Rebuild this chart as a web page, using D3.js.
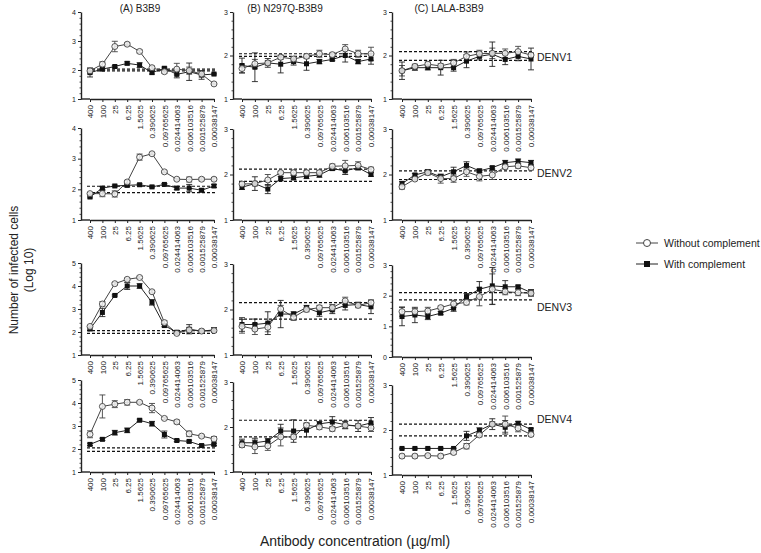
<!DOCTYPE html>
<html><head><meta charset="utf-8">
<script src="https://cdn.jsdelivr.net/npm/d3@7"></script>
<style>body{margin:0;background:#fff}svg{display:block;font-family:Arial,"Liberation Sans",sans-serif}</style>
</head><body><svg id="chart" width="761" height="553"></svg>
<script>
// ---------- categories / labels ----------
const concentrations = ["400","100","25","6.25","1.5625","0.390625","0.09765625","0.024414063","0.006103516","0.001525879","0.00038147"];
const panelTitles = ["(A) B3B9","(B) N297Q-B3B9","(C) LALA-B3B9"];
const serotypes = ["DENV1","DENV2","DENV3","DENV4"];
const seriesNames = ["Without complement","With complement"];
const yDomains = [[[1,4],[1,3],[1,3]],[[1,4],[1,3],[1,3]],[[1,5],[1,3],[0,3]],[[1,5],[1,3],[1,3]]];

// ---------- DENV1 ----------
const A1_without = [1.97,2.20,2.81,2.89,2.64,2.08,1.94,2.03,1.98,1.86,1.52];
const A1_with    = [1.91,2.03,2.12,2.23,2.17,1.91,2.06,1.85,1.94,1.83,1.86];
const A1_withoutErr = [0.10,0.08,0.18,0.05,0.05,0.05,0.05,0.20,0.12,0.10,0.03];
const A1_withErr    = [0.15,0.03,0.03,0.05,0.08,0.05,0.04,0.12,0.30,0.15,0.03];
const A1_cutoff = [2.03,1.97];

const B1_without = [1.70,1.81,1.83,1.96,1.92,1.98,2.04,2.02,2.15,2.04,2.04];
const B1_with    = [1.77,1.73,1.83,1.80,1.86,1.81,1.86,1.91,2.00,1.86,1.92];
const B1_withoutErr = [0.10,0.10,0.05,0.05,0.05,0.05,0.08,0.04,0.10,0.08,0.15];
const B1_withErr    = [0.17,0.33,0.10,0.20,0.08,0.15,0.05,0.03,0.15,0.05,0.12];
const B1_cutoff = [2.04,1.98];

const C1_without = [1.65,1.75,1.80,1.76,1.83,1.98,2.04,2.05,2.05,2.09,2.01];
const C1_with    = [1.65,1.72,1.72,1.72,1.72,1.87,1.98,2.03,1.91,1.98,1.92];
const C1_withoutErr = [0.12,0.05,0.05,0.05,0.08,0.10,0.08,0.12,0.10,0.12,0.05];
const C1_withErr    = [0.20,0.06,0.05,0.17,0.08,0.15,0.08,0.28,0.12,0.10,0.25];
const C1_cutoff = [2.09,1.89];

// ---------- DENV2 ----------
const A2_without = [1.86,1.86,1.85,2.24,3.05,3.16,2.57,2.33,2.32,2.33,2.33];
const A2_with    = [1.75,2.04,2.11,2.13,2.15,2.08,2.16,2.04,2.04,1.97,2.11];
const A2_withoutErr = [0.03,0.10,0.10,0.05,0.10,0.03,0.03,0.03,0.08,0.05,0.05];
const A2_withErr    = [0.03,0.05,0.03,0.05,0.03,0.03,0.03,0.05,0.12,0.05,0.05];
const A2_cutoff = [2.10,1.89];

const B2_without = [1.79,1.80,1.88,2.04,2.04,2.04,2.04,2.18,2.19,2.20,2.11];
const B2_with    = [1.72,1.80,1.68,1.91,1.93,1.96,1.99,2.13,2.08,2.15,2.00];
const B2_withoutErr = [0.03,0.05,0.12,0.03,0.05,0.05,0.05,0.05,0.12,0.08,0.05];
const B2_withErr    = [0.05,0.15,0.10,0.05,0.05,0.05,0.05,0.04,0.08,0.05,0.04];
const B2_cutoff = [2.12,1.85];

const C2_without = [1.73,1.90,2.04,1.91,1.91,2.06,1.96,1.99,2.17,2.19,2.15];
const C2_with    = [1.80,1.99,2.06,1.95,2.06,2.20,2.08,2.15,2.26,2.29,2.26];
const C2_withoutErr = [0.05,0.03,0.05,0.10,0.08,0.10,0.10,0.10,0.05,0.05,0.05];
const C2_withErr    = [0.05,0.03,0.05,0.05,0.10,0.08,0.04,0.03,0.05,0.05,0.05];
const C2_cutoff = [2.08,1.89];

// ---------- DENV3 ----------
const A3_without = [2.24,3.22,4.10,4.29,4.37,3.75,2.41,1.94,2.09,2.04,2.06];
const A3_with    = [2.13,2.85,3.59,4.00,4.00,3.29,2.28,1.99,2.12,2.04,2.09];
const A3_withoutErr = [0.03,0.10,0.05,0.05,0.05,0.05,0.08,0.05,0.10,0.05,0.05];
const A3_withErr    = [0.05,0.18,0.03,0.15,0.10,0.12,0.05,0.05,0.20,0.05,0.10];
const A3_cutoff = [2.06,1.94];

const B3_without = [1.63,1.57,1.61,2.01,1.83,2.00,2.04,2.04,2.19,2.09,2.15];
const B3_with    = [1.67,1.67,1.70,1.90,1.90,2.04,1.93,1.99,2.09,2.11,2.06];
const B3_withoutErr = [0.15,0.12,0.10,0.08,0.07,0.05,0.05,0.07,0.08,0.05,0.05];
const B3_withErr    = [0.15,0.12,0.25,0.30,0.05,0.05,0.08,0.08,0.10,0.05,0.15];
const B3_cutoff = [2.15,1.79];

const C3_without = [1.48,1.48,1.50,1.61,1.73,1.78,1.97,2.21,2.13,2.10,2.08];
const C3_with    = [1.32,1.37,1.32,1.43,1.59,1.97,2.21,2.32,2.29,2.29,2.10];
const C3_withoutErr = [0.15,0.10,0.12,0.05,0.12,0.08,0.30,0.50,0.10,0.10,0.10];
const C3_withErr    = [0.30,0.25,0.10,0.05,0.10,0.10,0.25,0.60,0.20,0.05,0.10];
const C3_cutoff = [2.10,1.86];

// ---------- DENV4 ----------
const A4_without = [2.64,3.85,3.95,4.03,4.03,3.78,3.33,3.18,2.66,2.56,2.44];
const A4_with    = [2.20,2.42,2.71,2.81,3.25,3.10,2.63,2.37,2.33,2.15,2.20];
const A4_withoutErr = [0.15,0.50,0.15,0.12,0.05,0.20,0.05,0.08,0.12,0.05,0.10];
const A4_withErr    = [0.05,0.05,0.10,0.10,0.05,0.10,0.15,0.05,0.05,0.05,0.05];
const A4_cutoff = [2.05,1.90];

const B4_without = [1.60,1.56,1.58,1.78,1.78,2.04,2.00,1.96,2.04,2.02,1.98];
const B4_with    = [1.65,1.65,1.69,1.91,1.91,1.93,2.07,2.11,2.05,2.02,2.09];
const B4_withoutErr = [0.05,0.15,0.10,0.20,0.05,0.05,0.05,0.05,0.08,0.05,0.08];
const B4_withErr    = [0.08,0.10,0.05,0.15,0.25,0.15,0.05,0.12,0.08,0.12,0.12];
const B4_cutoff = [2.15,1.78];

const C4_without = [1.42,1.42,1.43,1.42,1.50,1.64,1.89,2.13,2.13,2.04,1.90];
const C4_with    = [1.59,1.59,1.59,1.59,1.59,1.87,1.99,2.13,2.06,2.15,2.01];
const C4_withoutErr = [0.04,0.04,0.03,0.04,0.04,0.06,0.04,0.05,0.18,0.08,0.04];
const C4_withErr    = [0.01,0.01,0.01,0.01,0.01,0.10,0.06,0.12,0.15,0.04,0.03];
const C4_cutoff = [2.13,1.87];

const panelData = [
  [[A1_without,A1_with,A1_withoutErr,A1_withErr,A1_cutoff],[B1_without,B1_with,B1_withoutErr,B1_withErr,B1_cutoff],[C1_without,C1_with,C1_withoutErr,C1_withErr,C1_cutoff]],
  [[A2_without,A2_with,A2_withoutErr,A2_withErr,A2_cutoff],[B2_without,B2_with,B2_withoutErr,B2_withErr,B2_cutoff],[C2_without,C2_with,C2_withoutErr,C2_withErr,C2_cutoff]],
  [[A3_without,A3_with,A3_withoutErr,A3_withErr,A3_cutoff],[B3_without,B3_with,B3_withoutErr,B3_withErr,B3_cutoff],[C3_without,C3_with,C3_withoutErr,C3_withErr,C3_cutoff]],
  [[A4_without,A4_with,A4_withoutErr,A4_withErr,A4_cutoff],[B4_without,B4_with,B4_withoutErr,B4_withErr,B4_cutoff],[C4_without,C4_with,C4_withoutErr,C4_withErr,C4_cutoff]]
];

// ---------- layout ----------
const colX = [[81,90,214],[233,242,371],[392,402,531]];   // y-axis x, first tick, last tick
const rowY = [
  [[12,99],[12,99],[12,99]],
  [[128,220],[129,220],[129,220]],
  [[263,355],[264,355],[265,357]],
  [[380,472],[382,472],[385,475]]
];

const svg = d3.select("#chart");
const ink = "#222";
const lineGray = "#444";

panelData.forEach((row, r) => {
  row.forEach((pd, c) => {
    const [without, withC, withoutErr, withErr, cutoff] = pd;
    const [ax, x0, x1] = colX[c];
    const [top, bottom] = rowY[r][c];
    const dom = yDomains[r][c];
    const y = d3.scaleLinear().domain(dom).range([bottom, top]);
    const x = d3.scalePoint().domain(concentrations).range([x0, x1]);
    const g = svg.append("g");

    // y axis minor ticks
    const minor = d3.range(dom[0], dom[1] + 0.001, 0.2).filter(v => Math.abs(v - Math.round(v)) > 0.01);
    g.append("g").attr("transform", `translate(${ax},0)`)
      .call(d3.axisLeft(y).tickValues(minor).tickSize(1.5).tickSizeOuter(0).tickFormat(""))
      .call(s => s.select(".domain").remove())
      .selectAll("line").attr("stroke", ink).attr("stroke-width", 0.8);
    // y axis major
    const ya = g.append("g").attr("transform", `translate(${ax},0)`)
      .call(d3.axisLeft(y).tickValues(d3.range(dom[0], dom[1] + 1)).tickFormat(d3.format("d")).tickSize(3).tickSizeOuter(0).tickPadding(2));
    ya.select(".domain").attr("stroke", ink).attr("stroke-width", 1.4);
    ya.selectAll("line").attr("stroke", ink).attr("stroke-width", 1);
    ya.selectAll("text").attr("font-size", 7).attr("fill", ink).attr("font-family", "Arial, Liberation Sans, sans-serif");

    // x axis
    const xa = g.append("g").attr("transform", `translate(0,${bottom})`)
      .call(d3.axisBottom(x).tickSize(3).tickSizeOuter(0));
    xa.select(".domain").attr("stroke", ink).attr("stroke-width", 1.4);
    xa.selectAll("line").attr("stroke", ink);
    xa.selectAll("text").attr("font-size", 8).attr("fill", ink)
      .attr("font-family", "Arial, Liberation Sans, sans-serif")
      .attr("transform", "rotate(-90)").attr("text-anchor", "end")
      .attr("x", -6).attr("y", 0).attr("dy", "0.35em");
    g.append("line").attr("x1", ax).attr("x2", x0).attr("y1", bottom).attr("y2", bottom)
      .attr("stroke", ink).attr("stroke-width", 1.4);

    // cutoff dashed lines
    cutoff.forEach(v => {
      g.append("line").attr("x1", x0 - 3).attr("x2", x1 + 1).attr("y1", y(v)).attr("y2", y(v))
        .attr("stroke", "#111").attr("stroke-width", 1.2).attr("stroke-dasharray", "3,2");
    });

    const line = d3.line().x((d, i) => x(concentrations[i])).y(d => y(d));
    // series: 0 without (open circle), 1 with (filled square)
    [[without, withoutErr, 0], [withC, withErr, 1]].forEach(([vals, errs, k]) => {
      g.append("path").datum(vals).attr("d", line).attr("fill", "none")
        .attr("stroke", k === 0 ? lineGray : ink).attr("stroke-width", 1);
      const eb = g.append("g").attr("stroke", k === 0 ? lineGray : ink).attr("stroke-width", 0.9);
      vals.forEach((v, i) => {
        const cx = x(concentrations[i]);
        const e = errs[i];
        eb.append("line").attr("x1", cx).attr("x2", cx).attr("y1", y(v - e)).attr("y2", y(v + e));
        [v - e, v + e].forEach(w => eb.append("line").attr("x1", cx - 3).attr("x2", cx + 3).attr("y1", y(w)).attr("y2", y(w)));
      });
    });
    // markers
    withC.forEach((v, i) => {
      g.append("rect").attr("x", x(concentrations[i]) - 2.5).attr("y", y(v) - 2.5)
        .attr("width", 5).attr("height", 5).attr("fill", "#111");
    });
    without.forEach((v, i) => {
      g.append("circle").attr("cx", x(concentrations[i])).attr("cy", y(v)).attr("r", 3)
        .attr("fill", "#f4f4f4").attr("fill-opacity", 0.85).attr("stroke", lineGray).attr("stroke-width", 0.9);
    });
  });
});

// panel titles
const titleX = [140, 285, 449];
panelTitles.forEach((t, i) => {
  svg.append("text").attr("x", titleX[i]).attr("y", 12).attr("text-anchor", "middle")
    .attr("font-size", 10).attr("fill", ink).text(t);
});

// serotype labels
const seroY = [57, 173, 307, 419];
serotypes.forEach((s, i) => {
  svg.append("text").attr("x", 537).attr("y", seroY[i]).attr("dy", "0.35em")
    .attr("font-size", 10.5).attr("fill", ink).text(s);
});

// axis titles
svg.append("text").attr("transform", "translate(18,270) rotate(-90)").attr("text-anchor", "middle")
  .attr("font-size", 12).attr("fill", ink).text("Number of infected cells");
svg.append("text").attr("transform", "translate(33,270) rotate(-90)").attr("text-anchor", "middle")
  .attr("font-size", 12).attr("fill", ink).text("(Log 10)");
svg.append("text").attr("x", 355).attr("y", 546).attr("text-anchor", "middle")
  .attr("font-size", 14).attr("fill", ink).text("Antibody concentration (µg/ml)");

// legend
const legY = [243, 264];
seriesNames.forEach((n, i) => {
  const lg = svg.append("g");
  lg.append("line").attr("x1", 636).attr("x2", 658).attr("y1", legY[i]).attr("y2", legY[i])
    .attr("stroke", i === 0 ? lineGray : ink).attr("stroke-width", 1);
  if (i === 0) {
    lg.append("circle").attr("cx", 647).attr("cy", legY[i]).attr("r", 3.5)
      .attr("fill", "#fff").attr("stroke", lineGray).attr("stroke-width", 1);
  } else {
    lg.append("rect").attr("x", 644).attr("y", legY[i] - 3).attr("width", 6).attr("height", 6).attr("fill", "#111");
  }
  lg.append("text").attr("x", 664).attr("y", legY[i]).attr("dy", "0.35em")
    .attr("font-size", 10.5).attr("fill", ink).text(n);
});
</script></body></html>
